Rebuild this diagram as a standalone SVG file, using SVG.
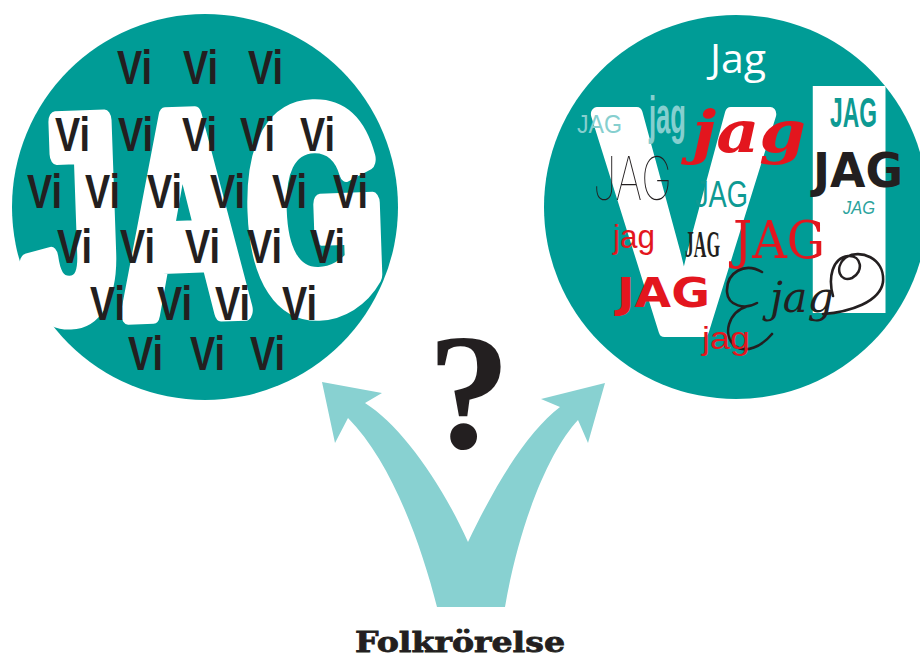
<svg xmlns="http://www.w3.org/2000/svg" width="920" height="661" viewBox="0 0 920 661">
<style>
.disc{fill:#009C96}
.big{font-family:"Liberation Sans",Arial,sans-serif;font-weight:bold;fill:#fff;stroke:#fff;stroke-linejoin:round}
.vi{font-family:"Liberation Sans",Arial,sans-serif;font-weight:bold;font-size:48px;fill:#231F20}
.red{fill:#E3161E}
.blk{fill:#231F20}
.teal{fill:#0E9A93}
.lteal{fill:#86CFCF}
.sw{fill:none;stroke:#231F20;stroke-width:2.6;stroke-linecap:round}
</style>
<rect width="920" height="661" fill="#fff"/>

<g id="node-jag">
  <circle class="disc" cx="205" cy="207" r="193"/>
  <text class="big" x="22" y="311" font-size="282" stroke-width="22" textLength="362" lengthAdjust="spacingAndGlyphs" transform="rotate(-2 205 210)">JAG</text>
  <g>
    <text class="vi" x="117" y="84" textLength="35" lengthAdjust="spacingAndGlyphs">Vi</text>
    <text class="vi" x="183" y="84" textLength="35" lengthAdjust="spacingAndGlyphs">Vi</text>
    <text class="vi" x="248" y="84" textLength="35" lengthAdjust="spacingAndGlyphs">Vi</text>
    <text class="vi" x="55" y="151" textLength="35" lengthAdjust="spacingAndGlyphs">Vi</text>
    <text class="vi" x="118" y="151" textLength="35" lengthAdjust="spacingAndGlyphs">Vi</text>
    <text class="vi" x="182" y="151" textLength="35" lengthAdjust="spacingAndGlyphs">Vi</text>
    <text class="vi" x="240" y="151" textLength="35" lengthAdjust="spacingAndGlyphs">Vi</text>
    <text class="vi" x="300" y="151" textLength="35" lengthAdjust="spacingAndGlyphs">Vi</text>
    <text class="vi" x="27" y="208" textLength="35" lengthAdjust="spacingAndGlyphs">Vi</text>
    <text class="vi" x="85" y="208" textLength="35" lengthAdjust="spacingAndGlyphs">Vi</text>
    <text class="vi" x="147" y="208" textLength="35" lengthAdjust="spacingAndGlyphs">Vi</text>
    <text class="vi" x="210" y="208" textLength="35" lengthAdjust="spacingAndGlyphs">Vi</text>
    <text class="vi" x="272" y="208" textLength="35" lengthAdjust="spacingAndGlyphs">Vi</text>
    <text class="vi" x="333" y="208" textLength="35" lengthAdjust="spacingAndGlyphs">Vi</text>
    <text class="vi" x="57" y="263" textLength="35" lengthAdjust="spacingAndGlyphs">Vi</text>
    <text class="vi" x="120" y="263" textLength="35" lengthAdjust="spacingAndGlyphs">Vi</text>
    <text class="vi" x="185" y="263" textLength="35" lengthAdjust="spacingAndGlyphs">Vi</text>
    <text class="vi" x="247" y="263" textLength="35" lengthAdjust="spacingAndGlyphs">Vi</text>
    <text class="vi" x="310" y="263" textLength="35" lengthAdjust="spacingAndGlyphs">Vi</text>
    <text class="vi" x="90" y="320" textLength="35" lengthAdjust="spacingAndGlyphs">Vi</text>
    <text class="vi" x="157" y="320" textLength="35" lengthAdjust="spacingAndGlyphs">Vi</text>
    <text class="vi" x="215" y="320" textLength="35" lengthAdjust="spacingAndGlyphs">Vi</text>
    <text class="vi" x="282" y="320" textLength="35" lengthAdjust="spacingAndGlyphs">Vi</text>
    <text class="vi" x="128" y="370" textLength="35" lengthAdjust="spacingAndGlyphs">Vi</text>
    <text class="vi" x="190" y="370" textLength="35" lengthAdjust="spacingAndGlyphs">Vi</text>
    <text class="vi" x="250" y="370" textLength="35" lengthAdjust="spacingAndGlyphs">Vi</text>
  </g>
</g>

<g id="node-vi">
  <circle class="disc" cx="736" cy="207" r="192"/>
  <text class="big" font-size="314" stroke-width="14" transform="translate(595 330) scale(0.846 1)">V</text>
  <text class="big" font-size="330" stroke-width="0" transform="translate(779 313) scale(1.53 1)">I</text>
  <text x="710" y="73" font-family="'Open Sans','Liberation Sans',sans-serif" font-size="41" fill="#fff">Jag</text>
  <text class="lteal" x="577" y="133" font-family="'Liberation Sans',sans-serif" font-size="25" textLength="45" lengthAdjust="spacingAndGlyphs">JAG</text>
  <text class="lteal" x="649" y="133" font-family="'Liberation Sans',sans-serif" font-weight="bold" font-size="52" textLength="37" lengthAdjust="spacingAndGlyphs">jag</text>
  <text class="red" x="692" y="152" font-family="'DejaVu Serif',serif" font-weight="bold" font-style="italic" font-size="58" textLength="114" lengthAdjust="spacingAndGlyphs">jag</text>
  <text class="teal" x="830" y="127" font-family="'Liberation Sans',sans-serif" font-weight="bold" font-size="42" textLength="47" lengthAdjust="spacingAndGlyphs">JAG</text>
  <text class="blk" x="813" y="187" font-family="'DejaVu Sans',sans-serif" font-weight="bold" font-size="48" textLength="90" lengthAdjust="spacingAndGlyphs">JAG</text>
  <text x="843" y="214" font-family="'Liberation Sans',sans-serif" font-style="italic" font-size="19" fill="#2BA39D" textLength="32" lengthAdjust="spacingAndGlyphs">JAG</text>
  <text class="blk" x="593" y="200" font-family="Inter,'Liberation Sans',sans-serif" font-weight="100" font-size="60" textLength="79" lengthAdjust="spacingAndGlyphs">JAG</text>
  <text class="teal" x="695" y="207" font-family="'Liberation Sans',sans-serif" font-size="37" textLength="53" lengthAdjust="spacingAndGlyphs">JAG</text>
  <text class="red" x="613" y="248" font-family="'Liberation Sans',sans-serif" font-size="34" textLength="42" lengthAdjust="spacingAndGlyphs">jag</text>
  <text class="blk" x="685" y="257" font-family="'Liberation Serif',serif" font-weight="bold" font-size="38" textLength="35" lengthAdjust="spacingAndGlyphs">JAG</text>
  <text class="red" x="733" y="258" font-family="'DejaVu Serif',serif" font-size="52" textLength="92" lengthAdjust="spacingAndGlyphs">JAG</text>
  <text class="red" x="617" y="307" font-family="'DejaVu Sans',sans-serif" font-weight="bold" font-size="41" textLength="93" lengthAdjust="spacingAndGlyphs">JAG</text>
  <text class="blk" x="770" y="312" font-family="'DejaVu Serif',serif" font-style="italic" font-size="42" textLength="64" lengthAdjust="spacingAndGlyphs">jag</text>
  <path class="sw" d="M762 272 C745 262 726 272 727 292 C728 306 745 310 757 303 M748 306 C728 312 722 335 735 346 C746 354 762 346 772 334"/>
  <path class="sw" d="M833 296 C828 278 832 258 848 256 C862 255 864 272 852 278 C840 283 834 268 845 258 C860 248 885 258 883 282 C880 302 850 312 823 314"/>
  <text class="red" x="702" y="349" font-family="'Liberation Sans',sans-serif" font-size="31" textLength="48" lengthAdjust="spacingAndGlyphs">jag</text>
</g>

<g id="connectors">
  <path id="fork-arrow" fill="#88D1D1" d="M437 607 C420 540 390 460 348 418 L335 443 L322 382 L382 393 L365 403 C400 425 440 480 468 542 C500 475 530 430 560 407 L541 399 L605 383 L588 443 L578 420 C550 450 520 520 505 607 Z"/>
</g>

<g id="question">
  <text x="469" y="448" text-anchor="middle" font-family="'Liberation Serif','Times New Roman',serif" font-weight="bold" font-size="166" fill="#231F20">?</text>
</g>

<g id="label">
  <text x="460" y="652" text-anchor="middle" font-family="'DejaVu Serif',serif" font-weight="bold" font-size="28" fill="#231F20" stroke="#231F20" stroke-width="0.8" textLength="210" lengthAdjust="spacingAndGlyphs">Folkrörelse</text>
</g>
</svg>
